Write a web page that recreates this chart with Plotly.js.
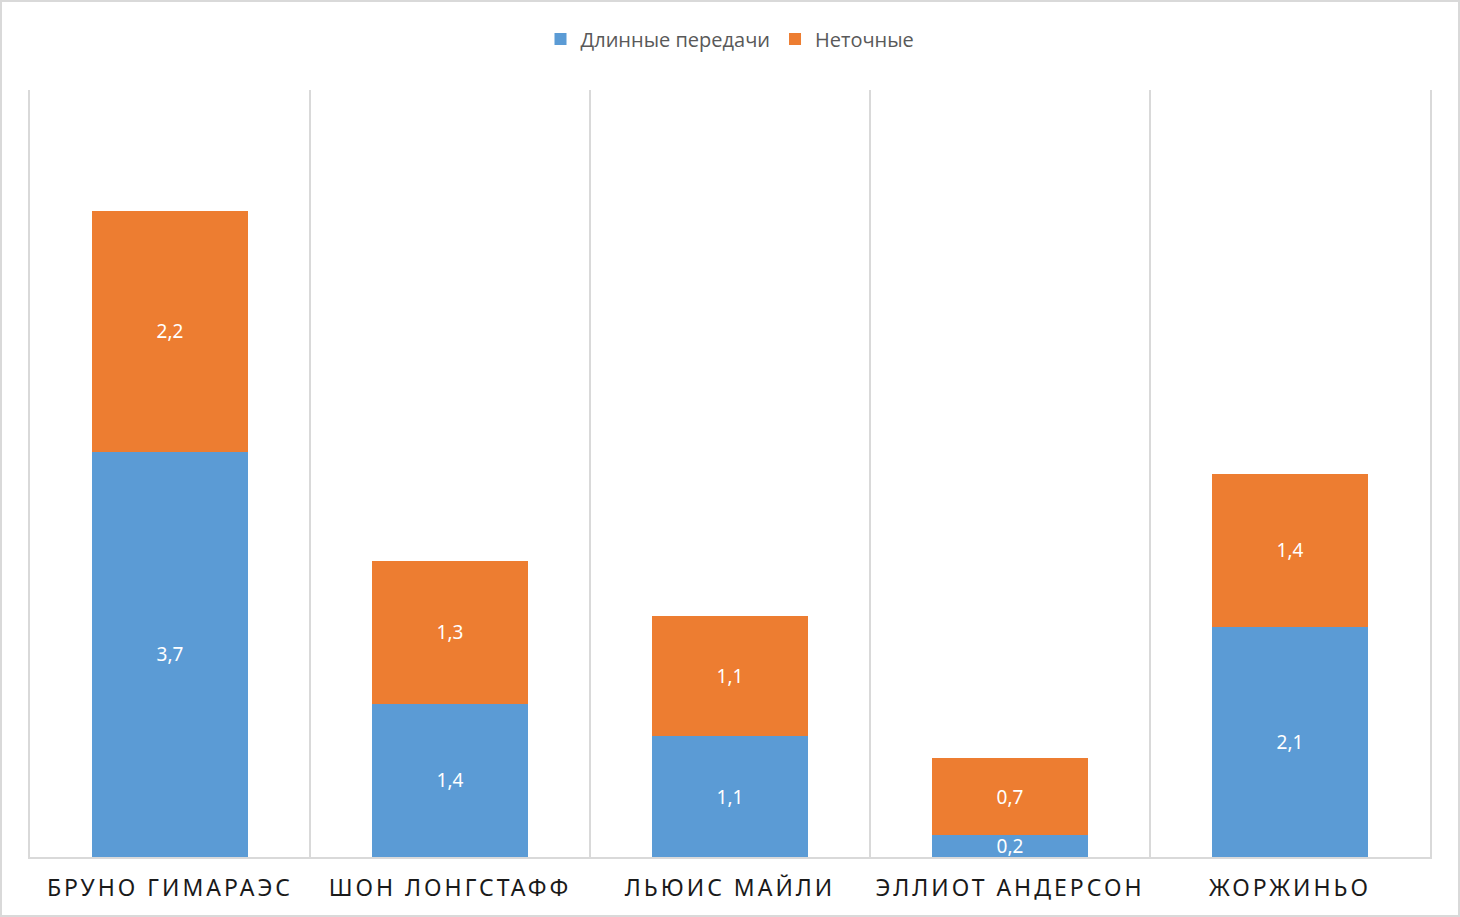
<!DOCTYPE html>
<html>
<head>
<meta charset="utf-8">
<script src="https://cdn.plot.ly/plotly-3.0.1.min.js"></script>
<style>
  html, body { margin: 0; padding: 0; background: #fff; }
  #chart { width: 1460px; height: 917px; box-sizing: border-box; border: 2px solid #d9d9d9; }
  .xtick text { letter-spacing: 3px; }
</style>
</head>
<body>
<div id="chart"></div>
<script>
const players = ["БРУНО ГИМАРАЭС", "ШОН ЛОНГСТАФФ", "ЛЬЮИС МАЙЛИ", "ЭЛЛИОТ АНДЕРСОН", "ЖОРЖИНЬО"];
const longPasses = [3.7, 1.4, 1.1, 0.2, 2.1];
const inaccurate = [2.2, 1.3, 1.1, 0.7, 1.4];
const seriesNames = ["Длинные передачи", "Неточные"];

const labelFont = { family: "Noto Sans, Open Sans, sans-serif", size: 19, color: "#ffffff" };

const traces = [
  {
    type: "bar", name: seriesNames[0], x: players, y: longPasses,
    marker: { color: "#5B9BD5" },
    texttemplate: "%{y:.1f}", textposition: "inside", insidetextanchor: "middle",
    textfont: labelFont, hoverinfo: "skip"
  },
  {
    type: "bar", name: seriesNames[1], x: players, y: inaccurate,
    marker: { color: "#ED7D31" },
    texttemplate: "%{y:.1f}", textposition: "inside", insidetextanchor: "middle",
    textfont: labelFont, hoverinfo: "skip"
  }
];

const layout = {
  width: 1456, height: 913,
  barmode: "stack",
  bargap: 0.443,
  separators: ",.",
  uniformtext: { minsize: 19, mode: "show" },
  paper_bgcolor: "#ffffff",
  plot_bgcolor: "#ffffff",
  margin: { l: 28, r: 28, t: 88, b: 58, pad: 0 },
  showlegend: true,
  legend: {
    orientation: "h", x: 0.5, xanchor: "center", y: 1.0665, yanchor: "middle",
    font: { family: "Open Sans, Noto Sans, sans-serif", size: 20, color: "#595959" },
    traceorder: "normal", itemwidth: 30
  },
  xaxis: {
    type: "category",
    tickson: "boundaries",
    showgrid: true, gridcolor: "#d9d9d9", gridwidth: 2,
    showline: true, linecolor: "#d9d9d9", linewidth: 2,
    ticks: "", ticklen: 0,
    ticklabelstandoff: 9,
    tickfont: { family: "Noto Sans, DejaVu Sans, sans-serif", size: 23, color: "#1a1a1a" },
    zeroline: false, fixedrange: true
  },
  yaxis: {
    range: [0, 7],
    showline: true, mirror: true, linecolor: "#d9d9d9", linewidth: 2,
    showticklabels: false, ticks: "",
    showgrid: false, zeroline: false, fixedrange: true
  }
};

Plotly.newPlot("chart", traces, layout, { displayModeBar: false, staticPlot: true });
</script>
</body>
</html>
